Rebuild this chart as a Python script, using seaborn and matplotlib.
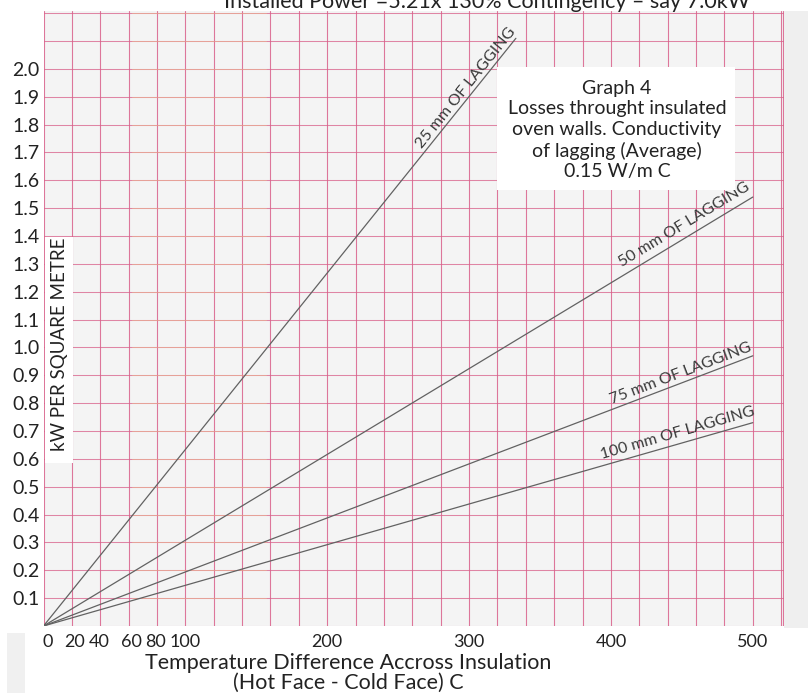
import numpy as np
import pandas as pd
import matplotlib
matplotlib.use("Agg")
import matplotlib.pyplot as plt
import matplotlib.patches as mpatches
import seaborn as sns

# ---- data ----
lagging = ["25 mm OF LAGGING", "50 mm OF LAGGING", "75 mm OF LAGGING", "100 mm OF LAGGING"]
temp_start = [0, 0, 0, 0]
temp_end = [333, 500, 500, 500]
kw_start = [0.0, 0.0, 0.0, 0.0]
kw_end = [2.11, 1.54, 0.97, 0.73]

label_x = [298, 452, 449, 447]
label_y = [1.93, 1.44, 0.908, 0.693]

x_tick_pos = [3, 22, 39, 62, 79, 100, 200, 300, 400, 500]
x_tick_labels = ["0", "20", "40", "60", "80", "100", "200", "300", "400", "500"]
y_ticks = [0.1, 0.2, 0.3, 0.4, 0.5, 0.6, 0.7, 0.8, 0.9, 1.0,
           1.1, 1.2, 1.3, 1.4, 1.5, 1.6, 1.7, 1.8, 1.9, 2.0]
y_tick_labels = [f"{v:.1f}" for v in y_ticks]

title_text = "Installed Power =5.21x 130% Contingency \u2013 say 7.0kW"
box_text = "Graph 4\nLosses throught insulated\noven walls. Conductivity\nof lagging (Average)\n0.15 W/m C"
x_label = "Temperature Difference Accross Insulation\n(Hot Face - Cold Face) C"
y_label = "kW PER SQUARE METRE"

# ---- long table for seaborn ----
rows = []
for name, t0, t1, k0, k1 in zip(lagging, temp_start, temp_end, kw_start, kw_end):
    rows.append({"lagging": name, "temp": t0, "kw": k0})
    rows.append({"lagging": name, "temp": t1, "kw": k1})
df = pd.DataFrame(rows)

sns.set_theme(style="white")
plt.rcParams["font.family"] = ["Lato", "DejaVu Sans"]

W, H = 808, 693
fig = plt.figure(figsize=(W / 100, H / 100), dpi=100)
fig.patch.set_facecolor("white")

# background strips of the scanned page
fig.patches.append(mpatches.Rectangle((784 / W, 1 - 628 / H), 24 / W, 617 / H,
                                      transform=fig.transFigure, facecolor="#efefef",
                                      edgecolor="none", zorder=0))
fig.patches.append(mpatches.Rectangle((7 / W, 0), 18 / W, 60 / H,
                                      transform=fig.transFigure, facecolor="#f0f0f0",
                                      edgecolor="none", zorder=0))

ax = fig.add_axes([43.5 / W, 1 - 626 / H, (784 - 43.5) / W, (626 - 11) / H])
ax.set_facecolor("#f4f4f4")
ax.set_xlim(0, 522)
ax.set_ylim(0, 2.208)

# graph-paper grid
pink = "#d9608a"
for xv in np.arange(0, 521, 20):
    ax.axvline(xv, color=pink, lw=0.8, alpha=0.85, zorder=1)
ax.axvline(521.5, color=pink, lw=0.8, alpha=0.85, zorder=1)
for yv in np.arange(0.0, 2.25, 0.1):
    ax.axhline(yv, color=pink, lw=0.75, alpha=0.75, zorder=1)
    ax.axhline(yv, xmin=0.12, xmax=0.3, color="#f2cf86", lw=0.7, zorder=1, alpha=0.4)

sns.lineplot(data=df, x="temp", y="kw", hue="lagging", units="lagging",
             estimator=None, palette=["#626262"] * 4, linewidth=0.9,
             legend=False, ax=ax, zorder=3)

for name, lx, ly, t1, k1 in zip(lagging, label_x, label_y, temp_end, kw_end):
    ang = np.degrees(np.arctan(k1 / t1))
    ax.text(lx, ly, name, fontsize=11.5, color="#3a3a3a", ha="center", va="center",
            rotation=ang, rotation_mode="anchor", transform_rotates_text=True, zorder=4)

for s in ax.spines.values():
    s.set_visible(False)

ax.set_xticks(x_tick_pos)
ax.set_xticklabels(x_tick_labels, fontsize=13, color="#222222")
ax.set_yticks(y_ticks)
ax.set_yticklabels(y_tick_labels, fontsize=14, color="#222222")
ax.tick_params(axis="both", length=0)
ax.tick_params(axis="y", pad=3)
ax.tick_params(axis="x", pad=6)
ax.set_xlabel("")
ax.set_ylabel("")

# y label in white box inside the plot
fig.patches.append(mpatches.Rectangle((45 / W, 1 - 463 / H), 28 / W, 226 / H,
                                      transform=fig.transFigure, facecolor="white",
                                      edgecolor="none", zorder=5))
fig.text(59.5 / W, 1 - 344 / H, y_label, rotation=90, ha="center", va="center",
         fontsize=13.5, color="#222222", zorder=6)

# info box
fig.patches.append(mpatches.Rectangle((497 / W, 1 - 190 / H), 238 / W, 123 / H,
                                      transform=fig.transFigure, facecolor="white",
                                      edgecolor="none", zorder=5))
fig.text(617 / W, 1 - 130 / H, box_text, ha="center", va="center", fontsize=14,
         color="#222222", linespacing=1.24, zorder=6)

# x label
fig.text(348 / W, 1 - 673 / H, x_label, ha="center", va="center", fontsize=15.5,
         color="#222222", linespacing=1.02)

# cut-off title at the top
fig.text(487 / W, 1 - 8 / H, title_text, ha="center", va="baseline", fontsize=15.5,
         color="#222222")

fig.savefig("out.png", dpi=100)
